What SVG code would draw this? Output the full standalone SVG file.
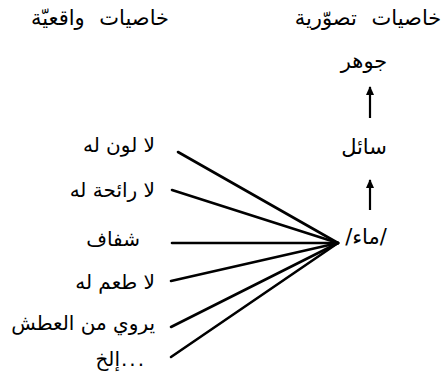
<svg xmlns="http://www.w3.org/2000/svg" width="444" height="373" viewBox="0 0 444 373">
<style>
  text { font-family: "DejaVu Sans", sans-serif; font-size: 20px; fill: #000; }
  .lbl { text-anchor: end; }
  .mid { text-anchor: middle; font-size: 21px; }
  .hd { text-anchor: middle; word-spacing: 8px; font-size: 21px; }
  .c { stroke: #000; stroke-width: 2.6; fill: none; stroke-linecap: round; }
  .ar { stroke: #000; stroke-width: 2.2; fill: none; }
</style>
<defs>
  <marker id="ah" viewBox="0 0 10 10" refX="9" refY="5" markerWidth="9" markerHeight="9" orient="auto" markerUnits="userSpaceOnUse">
    <path d="M0,0.5 L10,5 L0,9.5 Z" fill="#000"/>
  </marker>
</defs>
<rect width="444" height="373" fill="#fff"/>
<g id="header-left"><text class="hd" x="100" y="25">خاصيات واقعيّة</text></g>
<g id="header-right"><text class="hd" x="368" y="25">خاصيات تصوّرية</text></g>
<g id="jawhar"><text class="mid" x="364" y="68">جوهر</text></g>
<g id="sail"><text class="mid" x="364" y="154">سائل</text></g>
<g id="maa"><text class="mid" x="366" y="244">/ماء/</text></g>
<g id="l1"><text class="lbl" x="155" y="152">لا لون له</text></g>
<g id="l2"><text class="lbl" x="155" y="197">لا رائحة له</text></g>
<g id="l3"><text class="lbl" x="140" y="246">شفاف</text></g>
<g id="l4"><text class="lbl" x="155" y="289">لا طعم له</text></g>
<g id="l5"><text class="lbl" x="155" y="330">يروي من العطش</text></g>
<g id="l6"><text class="lbl" x="120" y="366">إلخ</text><text x="121" y="366" style="letter-spacing:2px">...</text></g>
<g id="connectors">
  <line class="ar" x1="370" y1="118" x2="370" y2="87" marker-end="url(#ah)"/>
  <line class="ar" x1="370" y1="210" x2="370" y2="180" marker-end="url(#ah)"/>
  <line class="c" x1="178" y1="152" x2="338" y2="243"/>
  <line class="c" x1="172" y1="190" x2="338" y2="243"/>
  <line class="c" x1="172" y1="243" x2="338" y2="243"/>
  <line class="c" x1="171" y1="281" x2="338" y2="243"/>
  <line class="c" x1="171" y1="327" x2="338" y2="243"/>
  <line class="c" x1="171" y1="357" x2="338" y2="243"/>
</g>
</svg>
